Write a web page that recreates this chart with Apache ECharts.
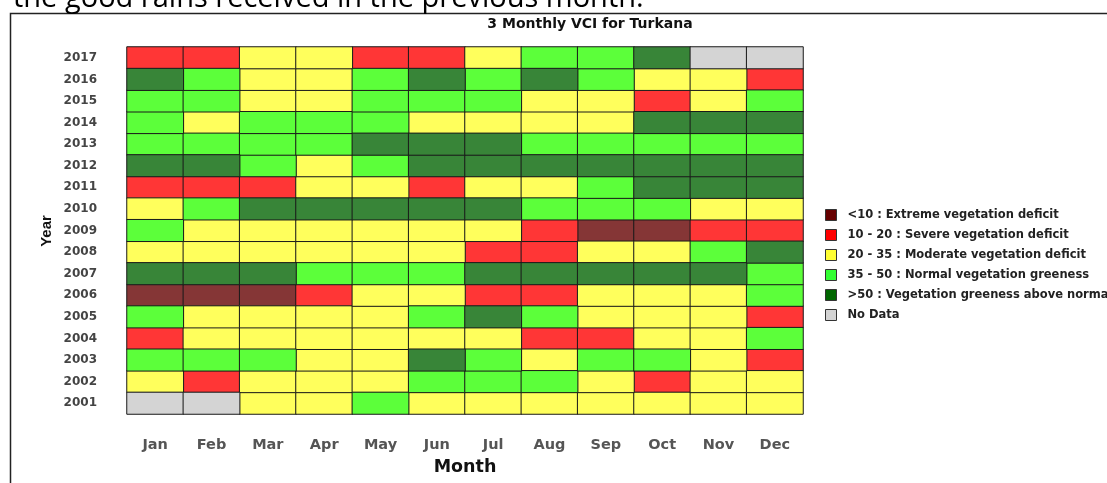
<!DOCTYPE html>
<html>
<head>
<meta charset="utf-8">
<script src="https://cdn.jsdelivr.net/npm/echarts@6/dist/echarts.min.js"></script>
<style>
  html, body { margin: 0; padding: 0; background: #fff; }
  #vci-container { width: 1107px; height: 483px; }
</style>
</head>
<body>
<div id="vci-container"></div>
<script>
const months = ['Jan', 'Feb', 'Mar', 'Apr', 'May', 'Jun', 'Jul', 'Aug', 'Sep', 'Oct', 'Nov', 'Dec']
const years = ['2001', '2002', '2003', '2004', '2005', '2006', '2007', '2008', '2009',
  '2010', '2011', '2012', '2013', '2014', '2015', '2016', '2017']
// VCI classes: 0 <10, 1 10-20, 2 20-35, 3 35-50, 4 >50, 5 no data
const classNames = [
  '<10 : Extreme vegetation deficit',
  '10 - 20 : Severe vegetation deficit',
  '20 - 35 : Moderate vegetation deficit',
  '35 - 50 : Normal vegetation greeness',
  '>50 : Vegetation greeness above normal',
  'No Data'
]
// one row per year (2001 first), Jan..Dec
const vci2001 = [5, 5, 2, 2, 3, 2, 2, 2, 2, 2, 2, 2]
const vci2002 = [2, 1, 2, 2, 2, 3, 3, 3, 2, 1, 2, 2]
const vci2003 = [3, 3, 3, 2, 2, 4, 3, 2, 3, 3, 2, 1]
const vci2004 = [1, 2, 2, 2, 2, 2, 2, 1, 1, 2, 2, 3]
const vci2005 = [3, 2, 2, 2, 2, 3, 4, 3, 2, 2, 2, 1]
const vci2006 = [0, 0, 0, 1, 2, 2, 1, 1, 2, 2, 2, 3]
const vci2007 = [4, 4, 4, 3, 3, 3, 4, 4, 4, 4, 4, 3]
const vci2008 = [2, 2, 2, 2, 2, 2, 1, 1, 2, 2, 3, 4]
const vci2009 = [3, 2, 2, 2, 2, 2, 2, 1, 0, 0, 1, 1]
const vci2010 = [2, 3, 4, 4, 4, 4, 4, 3, 3, 3, 2, 2]
const vci2011 = [1, 1, 1, 2, 2, 1, 2, 2, 3, 4, 4, 4]
const vci2012 = [4, 4, 3, 2, 3, 4, 4, 4, 4, 4, 4, 4]
const vci2013 = [3, 3, 3, 3, 4, 4, 4, 3, 3, 3, 3, 3]
const vci2014 = [3, 2, 3, 3, 3, 2, 2, 2, 2, 4, 4, 4]
const vci2015 = [3, 3, 2, 2, 3, 3, 3, 2, 2, 1, 2, 3]
const vci2016 = [4, 3, 2, 2, 3, 4, 3, 4, 3, 2, 2, 1]
const vci2017 = [1, 1, 2, 2, 1, 1, 2, 3, 3, 4, 5, 5]
const vciRows = [vci2001, vci2002, vci2003, vci2004, vci2005, vci2006, vci2007, vci2008, vci2009,
  vci2010, vci2011, vci2012, vci2013, vci2014, vci2015, vci2016, vci2017]

const cellColors = ['#853636', '#ff3636', '#ffff5c', '#5cff3a', '#388538', '#d4d4d4']
const legendColors = ['#660000', '#ff0000', '#ffff33', '#33ff33', '#006600', '#d3d3d3']

function drawChart () {
  const myChart = echarts.init(document.getElementById('vci-container'))
  const series = classNames.map((name, c) => {
    const data = []
    vciRows.forEach((row, yi) => {
      row.forEach((v, mi) => {
        if (v === c) data.push([mi, yi, v])
      })
    })
    return {
      name: name,
      type: 'heatmap',
      data: data,
      itemStyle: { color: cellColors[c], borderColor: '#1a1a1a', borderWidth: 1 },
      emphasis: { disabled: true }
    }
  })
  const option = {
    animation: false,
    grid: { left: 127, top: 47, width: 676, height: 367 },
    xAxis: {
      type: 'category',
      data: months,
      axisLine: { show: false },
      axisTick: { show: false },
      splitLine: { show: false },
      axisLabel: { margin: 24, color: '#555', fontFamily: 'DejaVu Sans', fontWeight: 'bold', fontSize: 14.5 },
      name: 'Month',
      nameLocation: 'middle',
      nameGap: 44,
      nameTextStyle: { color: '#111', fontFamily: 'DejaVu Sans', fontWeight: 'bold', fontSize: 17.5 }
    },
    yAxis: {
      type: 'category',
      data: years,
      axisLine: { show: false },
      axisTick: { show: false },
      splitLine: { show: false },
      axisLabel: { margin: 30, color: '#444', fontFamily: 'DejaVu Sans', fontWeight: 'bold', fontSize: 12 }
    },
    legend: {
      orient: 'vertical',
      left: 825,
      top: 209,
      padding: 0,
      itemWidth: 11,
      itemHeight: 11,
      itemGap: 8,
      icon: 'rect',
      selectedMode: false,
      data: classNames.map((name, c) => ({
        name: name,
        itemStyle: { color: legendColors[c], borderColor: '#333', borderWidth: 1 }
      })),
      textStyle: { color: '#222', fontFamily: 'DejaVu Sans', fontWeight: 'bold', fontSize: 11.5, padding: [0, 0, 0, 6] }
    },
    graphic: [
      {
        type: 'rect',
        shape: { x: 10.5, y: 13.5, width: 1300, height: 600 },
        style: { fill: 'none', stroke: '#222', lineWidth: 1.5 },
        silent: true
      },
      {
        type: 'text',
        x: 13,
        y: -1,
        style: {
          text: 'the good rains received in the previous month.',
          font: '29px "Open Sans"',
          fill: '#000',
          verticalAlign: 'middle'
        },
        silent: true
      },
      {
        type: 'text',
        x: 590,
        y: 24,
        style: {
          text: '3 Monthly VCI for Turkana',
          font: 'bold 14px "DejaVu Sans"',
          fill: '#111',
          align: 'center',
          verticalAlign: 'middle'
        },
        silent: true
      },
      {
        type: 'text',
        x: 47,
        y: 231,
        rotation: Math.PI / 2,
        style: {
          text: 'Year',
          font: 'bold 15px "Liberation Sans"',
          fill: '#111',
          align: 'center',
          verticalAlign: 'middle'
        },
        silent: true
      }
    ],
    series: series
  }
  myChart.setOption(option)
}

drawChart()
</script>
</body>
</html>
